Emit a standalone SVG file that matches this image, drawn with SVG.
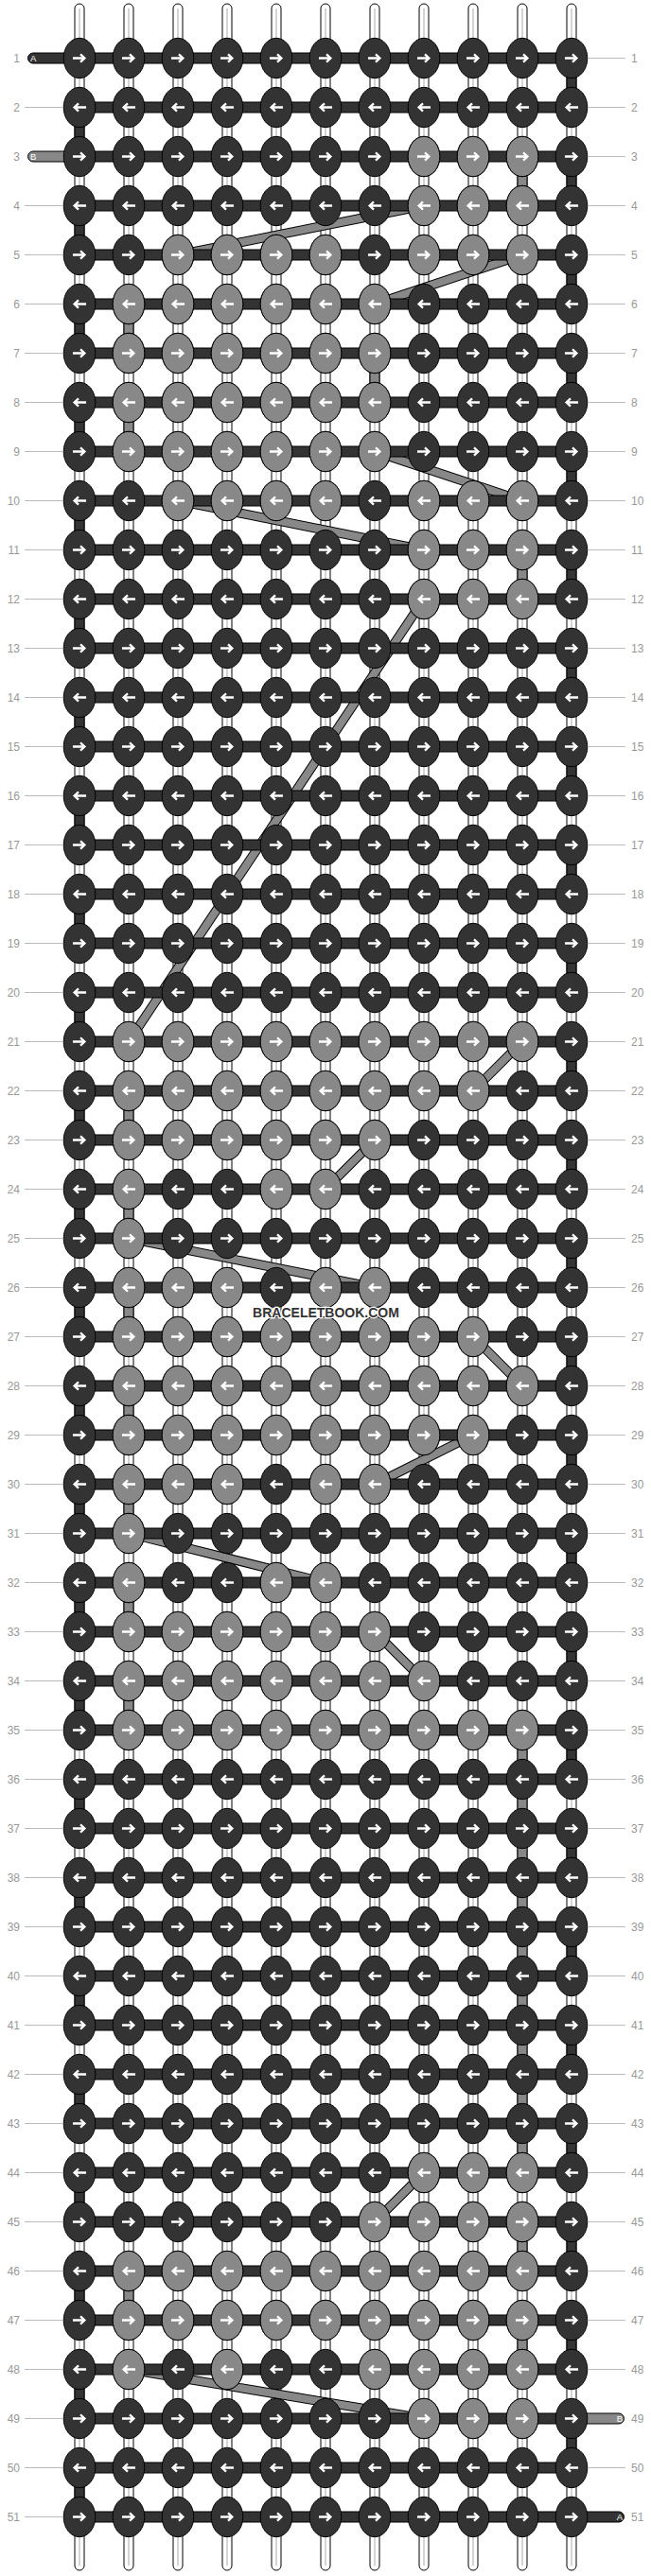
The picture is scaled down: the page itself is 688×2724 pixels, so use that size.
<svg xmlns="http://www.w3.org/2000/svg" xmlns:xlink="http://www.w3.org/1999/xlink" width="688" height="2724" viewBox="0 0 688 2724">
<style>
.hb{fill:#333;stroke:#000;stroke-width:1}
.kd{fill:#333;stroke:#000;stroke-width:1}
.kl{fill:#888;stroke:#000;stroke-width:1}
.arw{fill:none;stroke:#fff;stroke-width:2.3}
.ln{fill:none;stroke:#bbb;stroke-width:1}
.lb{font-family:"Liberation Sans",Arial,sans-serif;font-size:12px;fill:#999}
.tg{font-family:"Liberation Sans",Arial,sans-serif;font-size:9.5px;fill:#fff}
.wm{font-family:"Liberation Sans",Arial,sans-serif;font-size:14px;font-weight:bold;fill:#333;stroke:#fff;stroke-width:2.5;paint-order:stroke;text-anchor:middle}
</style>
<defs>
<path id="ar" class="arw" d="M-7,0H5M1,-4.2L5.4,0L1,4.2"/>
<path id="al" class="arw" d="M7,0H-5M-1,-4.2L-5.4,0L-1,4.2"/>
<g id="dR"><ellipse class="kd" rx="16.8" ry="21.2"/><use href="#ar"/></g>
<g id="dL"><ellipse class="kd" rx="16.8" ry="21.2"/><use href="#al"/></g>
<g id="lR"><ellipse class="kl" rx="16.8" ry="21.2"/><use href="#ar"/></g>
<g id="lL"><ellipse class="kl" rx="16.8" ry="21.2"/><use href="#al"/></g>
<g id="rR"><rect class="hb" x="84" y="-5.5" width="520" height="11"/><use href="#dR" x="84"/><use href="#dR" x="136"/><use href="#dR" x="188"/><use href="#dR" x="240"/><use href="#dR" x="292"/><use href="#dR" x="344"/><use href="#dR" x="396"/><use href="#dR" x="448"/><use href="#dR" x="500"/><use href="#dR" x="552"/><use href="#dR" x="604"/></g>
<g id="rL"><rect class="hb" x="84" y="-5.5" width="520" height="11"/><use href="#dL" x="84"/><use href="#dL" x="136"/><use href="#dL" x="188"/><use href="#dL" x="240"/><use href="#dL" x="292"/><use href="#dL" x="344"/><use href="#dL" x="396"/><use href="#dL" x="448"/><use href="#dL" x="500"/><use href="#dL" x="552"/><use href="#dL" x="604"/></g>
<g id="ws"><rect x="-5" y="4" width="10" height="2714" rx="5" fill="#fff" stroke="#000"/><line x1="0" y1="9" x2="0" y2="2713" stroke="#aaa" stroke-width="1"/></g>
<path id="gv" d="M552,165.5V217.5M136,321.5V373.5M396,373.5V425.5M136,425.5V477.5M552,581.5V633.5M136,1153.5V1205.5M136,1257.5V1309.5M136,1361.5V1413.5M136,1465.5V1517.5M136,1569.5V1621.5M136,1673.5V1725.5M136,1777.5V1829.5M552,1829.5V2297.5M552,2349.5V2401.5M136,2401.5V2453.5M552,2453.5V2505.5"/>
<path id="dg" d="M448,217.5L188,269.5M552,269.5L396,321.5M396,477.5L552,529.5M188,529.5L448,581.5M448,633.5L136,1101.5M552,1101.5L500,1153.5M396,1205.5L344,1257.5M136,1309.5L396,1361.5M500,1413.5L552,1465.5M500,1517.5L396,1569.5M136,1621.5L344,1673.5M396,1725.5L448,1777.5M448,2297.5L396,2349.5M136,2505.5L448,2557.5"/>
</defs>
<rect width="688" height="2724" fill="#fff"/>
<g id="warp-strings">
<use href="#ws" x="84"/><use href="#ws" x="136"/><use href="#ws" x="188"/><use href="#ws" x="240"/><use href="#ws" x="292"/><use href="#ws" x="344"/><use href="#ws" x="396"/><use href="#ws" x="448"/><use href="#ws" x="500"/><use href="#ws" x="552"/><use href="#ws" x="604"/>
</g>
<g id="connectors">
<line x1="604" y1="61.5" x2="604" y2="2609.5" stroke="#000" stroke-width="11" stroke-dasharray="52 52"/>
<line x1="604" y1="61.5" x2="604" y2="2609.5" stroke="#333" stroke-width="9" stroke-dasharray="52 52"/>
<line x1="84" y1="113.5" x2="84" y2="2661.5" stroke="#000" stroke-width="11" stroke-dasharray="52 52"/>
<line x1="84" y1="113.5" x2="84" y2="2661.5" stroke="#333" stroke-width="9" stroke-dasharray="52 52"/>
<use href="#gv" fill="none" stroke="#000" stroke-width="11"/>
<use href="#gv" fill="none" stroke="#888" stroke-width="9"/>
<use href="#dg" fill="none" stroke="#000" stroke-width="10"/>
<use href="#dg" fill="none" stroke="#888" stroke-width="8"/>
</g>
<g id="tags">
<g id="tag-A-start"><path d="M84,56H35a5.5,5.5 0 0 0 0,11H84Z" fill="#333" stroke="#000"/><text class="tg" x="32" y="65">A</text></g>
<g id="tag-B-start"><path d="M84,160H35a5.5,5.5 0 0 0 0,11H84Z" fill="#888" stroke="#000"/><text class="tg" x="32" y="169">B</text></g>
<g id="tag-B-end"><path d="M604,2552H654a5.5,5.5 0 0 1 0,11H604Z" fill="#888" stroke="#000"/><text class="tg" x="658" y="2561" text-anchor="end">B</text></g>
<g id="tag-A-end"><path d="M604,2656H654a5.5,5.5 0 0 1 0,11H604Z" fill="#333" stroke="#000"/><text class="tg" x="658" y="2665" text-anchor="end">A</text></g>
</g>
<g id="rows">
<g id="row-1"><use href="#rR" y="61.5"/></g>
<g id="row-2"><use href="#rL" y="113.5"/></g>
<g id="row-3"><use href="#rR" y="165.5"/><use href="#lR" x="448" y="165.5"/><use href="#lR" x="500" y="165.5"/><use href="#lR" x="552" y="165.5"/></g>
<g id="row-4"><use href="#rL" y="217.5"/><use href="#lL" x="448" y="217.5"/><use href="#lL" x="500" y="217.5"/><use href="#lL" x="552" y="217.5"/></g>
<g id="row-5"><use href="#rR" y="269.5"/><use href="#lR" x="188" y="269.5"/><use href="#lR" x="240" y="269.5"/><use href="#lR" x="292" y="269.5"/><use href="#lR" x="344" y="269.5"/><use href="#lR" x="448" y="269.5"/><use href="#lR" x="500" y="269.5"/><use href="#lR" x="552" y="269.5"/></g>
<g id="row-6"><use href="#rL" y="321.5"/><use href="#lL" x="136" y="321.5"/><use href="#lL" x="188" y="321.5"/><use href="#lL" x="240" y="321.5"/><use href="#lL" x="292" y="321.5"/><use href="#lL" x="344" y="321.5"/><use href="#lL" x="396" y="321.5"/></g>
<g id="row-7"><use href="#rR" y="373.5"/><use href="#lR" x="136" y="373.5"/><use href="#lR" x="188" y="373.5"/><use href="#lR" x="240" y="373.5"/><use href="#lR" x="292" y="373.5"/><use href="#lR" x="344" y="373.5"/><use href="#lR" x="396" y="373.5"/></g>
<g id="row-8"><use href="#rL" y="425.5"/><use href="#lL" x="136" y="425.5"/><use href="#lL" x="188" y="425.5"/><use href="#lL" x="240" y="425.5"/><use href="#lL" x="292" y="425.5"/><use href="#lL" x="344" y="425.5"/><use href="#lL" x="396" y="425.5"/></g>
<g id="row-9"><use href="#rR" y="477.5"/><use href="#lR" x="136" y="477.5"/><use href="#lR" x="188" y="477.5"/><use href="#lR" x="240" y="477.5"/><use href="#lR" x="292" y="477.5"/><use href="#lR" x="344" y="477.5"/><use href="#lR" x="396" y="477.5"/></g>
<g id="row-10"><use href="#rL" y="529.5"/><use href="#lL" x="188" y="529.5"/><use href="#lL" x="240" y="529.5"/><use href="#lL" x="292" y="529.5"/><use href="#lL" x="344" y="529.5"/><use href="#lL" x="448" y="529.5"/><use href="#lL" x="500" y="529.5"/><use href="#lL" x="552" y="529.5"/></g>
<g id="row-11"><use href="#rR" y="581.5"/><use href="#lR" x="448" y="581.5"/><use href="#lR" x="500" y="581.5"/><use href="#lR" x="552" y="581.5"/></g>
<g id="row-12"><use href="#rL" y="633.5"/><use href="#lL" x="448" y="633.5"/><use href="#lL" x="500" y="633.5"/><use href="#lL" x="552" y="633.5"/></g>
<g id="row-13"><use href="#rR" y="685.5"/></g>
<g id="row-14"><use href="#rL" y="737.5"/></g>
<g id="row-15"><use href="#rR" y="789.5"/></g>
<g id="row-16"><use href="#rL" y="841.5"/></g>
<g id="row-17"><use href="#rR" y="893.5"/></g>
<g id="row-18"><use href="#rL" y="945.5"/></g>
<g id="row-19"><use href="#rR" y="997.5"/></g>
<g id="row-20"><use href="#rL" y="1049.5"/></g>
<g id="row-21"><use href="#rR" y="1101.5"/><use href="#lR" x="136" y="1101.5"/><use href="#lR" x="188" y="1101.5"/><use href="#lR" x="240" y="1101.5"/><use href="#lR" x="292" y="1101.5"/><use href="#lR" x="344" y="1101.5"/><use href="#lR" x="396" y="1101.5"/><use href="#lR" x="448" y="1101.5"/><use href="#lR" x="500" y="1101.5"/><use href="#lR" x="552" y="1101.5"/></g>
<g id="row-22"><use href="#rL" y="1153.5"/><use href="#lL" x="136" y="1153.5"/><use href="#lL" x="188" y="1153.5"/><use href="#lL" x="240" y="1153.5"/><use href="#lL" x="292" y="1153.5"/><use href="#lL" x="344" y="1153.5"/><use href="#lL" x="396" y="1153.5"/><use href="#lL" x="448" y="1153.5"/><use href="#lL" x="500" y="1153.5"/></g>
<g id="row-23"><use href="#rR" y="1205.5"/><use href="#lR" x="136" y="1205.5"/><use href="#lR" x="188" y="1205.5"/><use href="#lR" x="240" y="1205.5"/><use href="#lR" x="292" y="1205.5"/><use href="#lR" x="344" y="1205.5"/><use href="#lR" x="396" y="1205.5"/></g>
<g id="row-24"><use href="#rL" y="1257.5"/><use href="#lL" x="136" y="1257.5"/><use href="#lL" x="292" y="1257.5"/><use href="#lL" x="344" y="1257.5"/></g>
<g id="row-25"><use href="#rR" y="1309.5"/><use href="#lR" x="136" y="1309.5"/></g>
<g id="row-26"><use href="#rL" y="1361.5"/><use href="#lL" x="136" y="1361.5"/><use href="#lL" x="188" y="1361.5"/><use href="#lL" x="240" y="1361.5"/><use href="#lL" x="344" y="1361.5"/><use href="#lL" x="396" y="1361.5"/></g>
<g id="row-27"><use href="#rR" y="1413.5"/><use href="#lR" x="136" y="1413.5"/><use href="#lR" x="188" y="1413.5"/><use href="#lR" x="240" y="1413.5"/><use href="#lR" x="292" y="1413.5"/><use href="#lR" x="344" y="1413.5"/><use href="#lR" x="396" y="1413.5"/><use href="#lR" x="448" y="1413.5"/><use href="#lR" x="500" y="1413.5"/></g>
<g id="row-28"><use href="#rL" y="1465.5"/><use href="#lL" x="136" y="1465.5"/><use href="#lL" x="188" y="1465.5"/><use href="#lL" x="240" y="1465.5"/><use href="#lL" x="292" y="1465.5"/><use href="#lL" x="344" y="1465.5"/><use href="#lL" x="396" y="1465.5"/><use href="#lL" x="448" y="1465.5"/><use href="#lL" x="500" y="1465.5"/><use href="#lL" x="552" y="1465.5"/></g>
<g id="row-29"><use href="#rR" y="1517.5"/><use href="#lR" x="136" y="1517.5"/><use href="#lR" x="188" y="1517.5"/><use href="#lR" x="240" y="1517.5"/><use href="#lR" x="292" y="1517.5"/><use href="#lR" x="344" y="1517.5"/><use href="#lR" x="396" y="1517.5"/><use href="#lR" x="448" y="1517.5"/><use href="#lR" x="500" y="1517.5"/></g>
<g id="row-30"><use href="#rL" y="1569.5"/><use href="#lL" x="136" y="1569.5"/><use href="#lL" x="188" y="1569.5"/><use href="#lL" x="240" y="1569.5"/><use href="#lL" x="344" y="1569.5"/><use href="#lL" x="396" y="1569.5"/></g>
<g id="row-31"><use href="#rR" y="1621.5"/><use href="#lR" x="136" y="1621.5"/></g>
<g id="row-32"><use href="#rL" y="1673.5"/><use href="#lL" x="136" y="1673.5"/><use href="#lL" x="292" y="1673.5"/><use href="#lL" x="344" y="1673.5"/></g>
<g id="row-33"><use href="#rR" y="1725.5"/><use href="#lR" x="136" y="1725.5"/><use href="#lR" x="188" y="1725.5"/><use href="#lR" x="240" y="1725.5"/><use href="#lR" x="292" y="1725.5"/><use href="#lR" x="344" y="1725.5"/><use href="#lR" x="396" y="1725.5"/></g>
<g id="row-34"><use href="#rL" y="1777.5"/><use href="#lL" x="136" y="1777.5"/><use href="#lL" x="188" y="1777.5"/><use href="#lL" x="240" y="1777.5"/><use href="#lL" x="292" y="1777.5"/><use href="#lL" x="344" y="1777.5"/><use href="#lL" x="396" y="1777.5"/><use href="#lL" x="448" y="1777.5"/></g>
<g id="row-35"><use href="#rR" y="1829.5"/><use href="#lR" x="136" y="1829.5"/><use href="#lR" x="188" y="1829.5"/><use href="#lR" x="240" y="1829.5"/><use href="#lR" x="292" y="1829.5"/><use href="#lR" x="344" y="1829.5"/><use href="#lR" x="396" y="1829.5"/><use href="#lR" x="448" y="1829.5"/><use href="#lR" x="500" y="1829.5"/><use href="#lR" x="552" y="1829.5"/></g>
<g id="row-36"><use href="#rL" y="1881.5"/></g>
<g id="row-37"><use href="#rR" y="1933.5"/></g>
<g id="row-38"><use href="#rL" y="1985.5"/></g>
<g id="row-39"><use href="#rR" y="2037.5"/></g>
<g id="row-40"><use href="#rL" y="2089.5"/></g>
<g id="row-41"><use href="#rR" y="2141.5"/></g>
<g id="row-42"><use href="#rL" y="2193.5"/></g>
<g id="row-43"><use href="#rR" y="2245.5"/></g>
<g id="row-44"><use href="#rL" y="2297.5"/><use href="#lL" x="448" y="2297.5"/><use href="#lL" x="500" y="2297.5"/><use href="#lL" x="552" y="2297.5"/></g>
<g id="row-45"><use href="#rR" y="2349.5"/><use href="#lR" x="396" y="2349.5"/><use href="#lR" x="448" y="2349.5"/><use href="#lR" x="500" y="2349.5"/><use href="#lR" x="552" y="2349.5"/></g>
<g id="row-46"><use href="#rL" y="2401.5"/><use href="#lL" x="136" y="2401.5"/><use href="#lL" x="188" y="2401.5"/><use href="#lL" x="240" y="2401.5"/><use href="#lL" x="292" y="2401.5"/><use href="#lL" x="344" y="2401.5"/><use href="#lL" x="396" y="2401.5"/><use href="#lL" x="448" y="2401.5"/><use href="#lL" x="500" y="2401.5"/><use href="#lL" x="552" y="2401.5"/></g>
<g id="row-47"><use href="#rR" y="2453.5"/><use href="#lR" x="136" y="2453.5"/><use href="#lR" x="188" y="2453.5"/><use href="#lR" x="240" y="2453.5"/><use href="#lR" x="292" y="2453.5"/><use href="#lR" x="344" y="2453.5"/><use href="#lR" x="396" y="2453.5"/><use href="#lR" x="448" y="2453.5"/><use href="#lR" x="500" y="2453.5"/><use href="#lR" x="552" y="2453.5"/></g>
<g id="row-48"><use href="#rL" y="2505.5"/><use href="#lL" x="136" y="2505.5"/><use href="#lL" x="240" y="2505.5"/><use href="#lL" x="396" y="2505.5"/><use href="#lL" x="448" y="2505.5"/><use href="#lL" x="500" y="2505.5"/><use href="#lL" x="552" y="2505.5"/></g>
<g id="row-49"><use href="#rR" y="2557.5"/><use href="#lR" x="448" y="2557.5"/><use href="#lR" x="500" y="2557.5"/><use href="#lR" x="552" y="2557.5"/></g>
<g id="row-50"><use href="#rL" y="2609.5"/></g>
<g id="row-51"><use href="#rR" y="2661.5"/></g>
</g>
<g id="label-lines" class="ln">
<path d="M26,113.5H67M26,217.5H67M26,269.5H67M26,321.5H67M26,373.5H67M26,425.5H67M26,477.5H67M26,529.5H67M26,581.5H67M26,633.5H67M26,685.5H67M26,737.5H67M26,789.5H67M26,841.5H67M26,893.5H67M26,945.5H67M26,997.5H67M26,1049.5H67M26,1101.5H67M26,1153.5H67M26,1205.5H67M26,1257.5H67M26,1309.5H67M26,1361.5H67M26,1413.5H67M26,1465.5H67M26,1517.5H67M26,1569.5H67M26,1621.5H67M26,1673.5H67M26,1725.5H67M26,1777.5H67M26,1829.5H67M26,1881.5H67M26,1933.5H67M26,1985.5H67M26,2037.5H67M26,2089.5H67M26,2141.5H67M26,2193.5H67M26,2245.5H67M26,2297.5H67M26,2349.5H67M26,2401.5H67M26,2453.5H67M26,2505.5H67M26,2557.5H67M26,2609.5H67M26,2661.5H67"/>
<path d="M621,61.5H661M621,113.5H661M621,165.5H661M621,217.5H661M621,269.5H661M621,321.5H661M621,373.5H661M621,425.5H661M621,477.5H661M621,529.5H661M621,581.5H661M621,633.5H661M621,685.5H661M621,737.5H661M621,789.5H661M621,841.5H661M621,893.5H661M621,945.5H661M621,997.5H661M621,1049.5H661M621,1101.5H661M621,1153.5H661M621,1205.5H661M621,1257.5H661M621,1309.5H661M621,1361.5H661M621,1413.5H661M621,1465.5H661M621,1517.5H661M621,1569.5H661M621,1621.5H661M621,1673.5H661M621,1725.5H661M621,1777.5H661M621,1829.5H661M621,1881.5H661M621,1933.5H661M621,1985.5H661M621,2037.5H661M621,2089.5H661M621,2141.5H661M621,2193.5H661M621,2245.5H661M621,2297.5H661M621,2349.5H661M621,2401.5H661M621,2453.5H661M621,2505.5H661M621,2609.5H661"/>
</g>
<g id="labels-left" class="lb" text-anchor="end">
<text x="21" y="65.5">1</text><text x="21" y="117.5">2</text><text x="21" y="169.5">3</text><text x="21" y="221.5">4</text><text x="21" y="273.5">5</text><text x="21" y="325.5">6</text><text x="21" y="377.5">7</text><text x="21" y="429.5">8</text><text x="21" y="481.5">9</text><text x="21" y="533.5">10</text><text x="21" y="585.5">11</text><text x="21" y="637.5">12</text><text x="21" y="689.5">13</text><text x="21" y="741.5">14</text><text x="21" y="793.5">15</text><text x="21" y="845.5">16</text><text x="21" y="897.5">17</text><text x="21" y="949.5">18</text><text x="21" y="1001.5">19</text><text x="21" y="1053.5">20</text><text x="21" y="1105.5">21</text><text x="21" y="1157.5">22</text><text x="21" y="1209.5">23</text><text x="21" y="1261.5">24</text><text x="21" y="1313.5">25</text><text x="21" y="1365.5">26</text><text x="21" y="1417.5">27</text><text x="21" y="1469.5">28</text><text x="21" y="1521.5">29</text><text x="21" y="1573.5">30</text><text x="21" y="1625.5">31</text><text x="21" y="1677.5">32</text><text x="21" y="1729.5">33</text><text x="21" y="1781.5">34</text><text x="21" y="1833.5">35</text><text x="21" y="1885.5">36</text><text x="21" y="1937.5">37</text><text x="21" y="1989.5">38</text><text x="21" y="2041.5">39</text><text x="21" y="2093.5">40</text><text x="21" y="2145.5">41</text><text x="21" y="2197.5">42</text><text x="21" y="2249.5">43</text><text x="21" y="2301.5">44</text><text x="21" y="2353.5">45</text><text x="21" y="2405.5">46</text><text x="21" y="2457.5">47</text><text x="21" y="2509.5">48</text><text x="21" y="2561.5">49</text><text x="21" y="2613.5">50</text><text x="21" y="2665.5">51</text>
</g>
<g id="labels-right" class="lb">
<text x="667" y="65.5">1</text><text x="667" y="117.5">2</text><text x="667" y="169.5">3</text><text x="667" y="221.5">4</text><text x="667" y="273.5">5</text><text x="667" y="325.5">6</text><text x="667" y="377.5">7</text><text x="667" y="429.5">8</text><text x="667" y="481.5">9</text><text x="667" y="533.5">10</text><text x="667" y="585.5">11</text><text x="667" y="637.5">12</text><text x="667" y="689.5">13</text><text x="667" y="741.5">14</text><text x="667" y="793.5">15</text><text x="667" y="845.5">16</text><text x="667" y="897.5">17</text><text x="667" y="949.5">18</text><text x="667" y="1001.5">19</text><text x="667" y="1053.5">20</text><text x="667" y="1105.5">21</text><text x="667" y="1157.5">22</text><text x="667" y="1209.5">23</text><text x="667" y="1261.5">24</text><text x="667" y="1313.5">25</text><text x="667" y="1365.5">26</text><text x="667" y="1417.5">27</text><text x="667" y="1469.5">28</text><text x="667" y="1521.5">29</text><text x="667" y="1573.5">30</text><text x="667" y="1625.5">31</text><text x="667" y="1677.5">32</text><text x="667" y="1729.5">33</text><text x="667" y="1781.5">34</text><text x="667" y="1833.5">35</text><text x="667" y="1885.5">36</text><text x="667" y="1937.5">37</text><text x="667" y="1989.5">38</text><text x="667" y="2041.5">39</text><text x="667" y="2093.5">40</text><text x="667" y="2145.5">41</text><text x="667" y="2197.5">42</text><text x="667" y="2249.5">43</text><text x="667" y="2301.5">44</text><text x="667" y="2353.5">45</text><text x="667" y="2405.5">46</text><text x="667" y="2457.5">47</text><text x="667" y="2509.5">48</text><text x="667" y="2561.5">49</text><text x="667" y="2613.5">50</text><text x="667" y="2665.5">51</text>
</g>
<g id="watermark"><text class="wm" x="344.5" y="1393">BRACELETBOOK.COM</text></g>
</svg>
